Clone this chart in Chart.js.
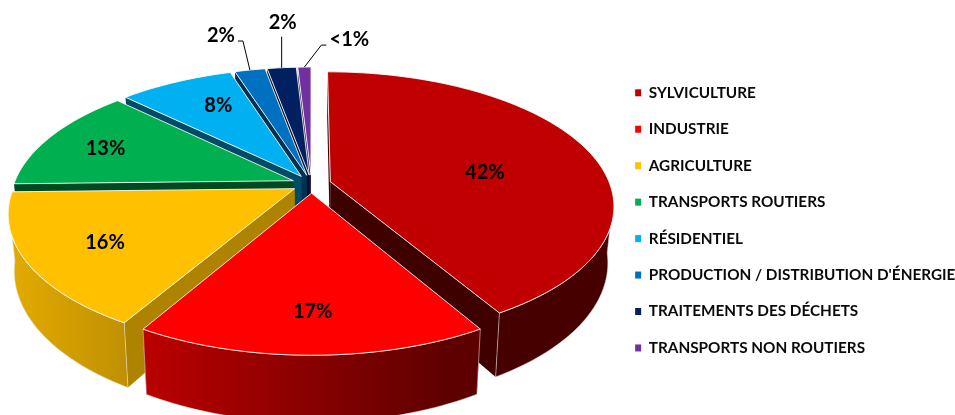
<!DOCTYPE html>
<html>
<head>
<meta charset="utf-8">
<script src="https://cdn.jsdelivr.net/npm/chart.js@4"></script>
<style>
  html, body { margin: 0; background: #fff; }
  canvas { display: block; }
</style>
</head>
<body>
<canvas id="pie" width="955" height="415"></canvas>
<script>
const categories = ["SYLVICULTURE", "INDUSTRIE", "AGRICULTURE", "TRANSPORTS ROUTIERS", "RÉSIDENTIEL",
  "PRODUCTION / DISTRIBUTION D'ÉNERGIE", "TRAITEMENTS DES DÉCHETS", "TRANSPORTS NON ROUTIERS"];
const shares = [41.58, 16.82, 16.22, 12.65, 7.78, 2.07, 1.98, 0.9];
const shareLabels = ["42%", "17%", "16%", "13%", "8%", "2%", "2%", "<1%"];

const colors = ["#C00000", "#FF0000", "#FFC000", "#00B050", "#00B0F0", "#0070C0", "#002060", "#7030A0"];
const sideWallShade = [0.33, 0.5, 0.68, 0.42, 0.43, 0.43, 0.43, 0.43];

// view of the tilted pie
const view = { cx: 311.5, cy: 184, rx: 279.5, ry: 129.9, persp: 0.176, depth: 54.5, explode: 0.07, foot: 0.98 };

// label placement: distance along the slice middle, then a small nudge for each one
const labelRadius = [0.6, 0.76, 0.68, 0.7, 0.72, 1.0, 1.0, 1.0];
const labelNudge = [[-2, 11], [1, 1], [-13, 5], [-15, -1], [11, 0], [-29, -34], [1, -45], [45, -28]];
const leaderBend = [null, null, null, null, null, [[-7, -29], [-12, -29]], [[0, -31]], [[17, -22], [22, -22]]];

function project(u, v, low) {
  const s = 1 / (1 - view.persp * v);
  return {
    x: view.cx + view.rx * u * s * (low ? view.foot : 1),
    y: view.cy + view.ry * v * s + (low ? view.depth * s : 0)
  };
}

function shade(hex, f) {
  const n = parseInt(hex.slice(1), 16);
  const c = [n >> 16, (n >> 8) & 255, n & 255].map(v => Math.round(v * f));
  return `rgb(${c[0]},${c[1]},${c[2]})`;
}

function tracePath(ctx, pts) {
  ctx.beginPath();
  pts.forEach((p, i) => (i ? ctx.lineTo(p.x, p.y) : ctx.moveTo(p.x, p.y)));
  ctx.closePath();
}

function sliceGeometry(arc) {
  const mid = (arc.startAngle + arc.endAngle) / 2;
  const ou = view.explode * Math.cos(mid);
  const ov = view.explode * Math.sin(mid);
  const rim = [];
  const steps = Math.max(4, Math.round((arc.endAngle - arc.startAngle) * 40));
  for (let i = 0; i <= steps; i++) {
    const a = arc.startAngle + (arc.endAngle - arc.startAngle) * i / steps;
    rim.push({ u: ou + Math.cos(a), v: ov + Math.sin(a), facing: Math.sin(a) > 0.1 });
  }
  return { mid, ou, ov, rim };
}

function drawSlice(ctx, arc, i) {
  const { ou, ov, rim } = sliceGeometry(arc);
  const topRim = rim.map(p => project(p.u, p.v, false));
  const lowRim = rim.map(p => project(p.u, p.v, true));
  const apex = project(ou, ov, false);
  const apexLow = project(ou, ov, true);

  // flat walls along both cut edges
  ctx.fillStyle = shade(colors[i], sideWallShade[i]);
  [0, rim.length - 1].forEach(k => {
    tracePath(ctx, [apex, topRim[k], lowRim[k], apexLow]);
    ctx.fill();
  });

  // curved outer wall, lit from the left, only where it faces the viewer
  const seen = rim.map(p => p.facing);
  const wallTop = topRim.filter((p, k) => seen[k]);
  const wallLow = lowRim.filter((p, k) => seen[k]);
  if (wallTop.length > 1) {
    const grad = ctx.createLinearGradient(0, 0, 450, 0);
    grad.addColorStop(0, shade(colors[i], 0.9));
    grad.addColorStop(1, shade(colors[i], 0.37));
    ctx.fillStyle = grad;
    tracePath(ctx, wallTop.concat(wallLow.slice().reverse()));
    ctx.fill();
    ctx.strokeStyle = "rgba(225,225,225,0.7)";
    ctx.lineWidth = 0.8;
    ctx.stroke();
  }

  // top face
  ctx.fillStyle = colors[i];
  tracePath(ctx, [apex].concat(topRim));
  ctx.fill();
  ctx.strokeStyle = "rgba(255,255,255,0.85)";
  ctx.lineWidth = 1;
  ctx.stroke();
}

function drawLabel(ctx, arc, i) {
  const { mid, ou, ov } = sliceGeometry(arc);
  const r = labelRadius[i];
  const p = project(ou + r * Math.cos(mid), ov + r * Math.sin(mid), false);
  const edge = project(ou + Math.cos(mid), ov + Math.sin(mid), false);
  if (leaderBend[i]) {
    ctx.beginPath();
    ctx.moveTo(edge.x, edge.y);
    leaderBend[i].forEach(b => ctx.lineTo(edge.x + b[0], edge.y + b[1]));
    ctx.strokeStyle = "#000";
    ctx.lineWidth = 1;
    ctx.stroke();
  }
  ctx.fillStyle = "#000";
  ctx.font = "bold 20px Lato";
  ctx.textAlign = "center";
  ctx.textBaseline = "middle";
  ctx.fillText(shareLabels[i], p.x + labelNudge[i][0], p.y + labelNudge[i][1]);
}

const pie3d = {
  id: "pie3d",
  beforeDatasetDraw(chart, args) {
    const ctx = chart.ctx;
    const arcs = chart.getDatasetMeta(args.index).data;
    // back slices first so the front ones cover them
    const order = arcs.map((a, i) => i).sort((a, b) =>
      Math.sin((arcs[a].startAngle + arcs[a].endAngle) / 2) - Math.sin((arcs[b].startAngle + arcs[b].endAngle) / 2));
    ctx.save();
    ctx.lineJoin = "round";
    order.forEach(i => drawSlice(ctx, arcs[i], i));
    arcs.forEach((a, i) => drawLabel(ctx, a, i));
    ctx.restore();
    return false;
  }
};

window.onload = () => {
  new Chart(document.getElementById("pie").getContext("2d"), {
    type: "pie",
    data: {
      labels: categories,
      datasets: [{ data: shares, backgroundColor: colors, borderWidth: 0 }]
    },
    plugins: [pie3d],
    options: {
      responsive: false,
      animation: false,
      layout: { padding: { top: 64 } },
      plugins: {
        tooltip: { enabled: false },
        legend: {
          position: "right",
          align: "start",
          maxWidth: 341,
          labels: {
            boxWidth: 6,
            boxHeight: 7,
            padding: 21.15,
            color: "#0a0a0a",
            font: { family: "Lato", size: 15.3, weight: "bold" }
          }
        }
      }
    }
  });
};
</script>
</body>
</html>
